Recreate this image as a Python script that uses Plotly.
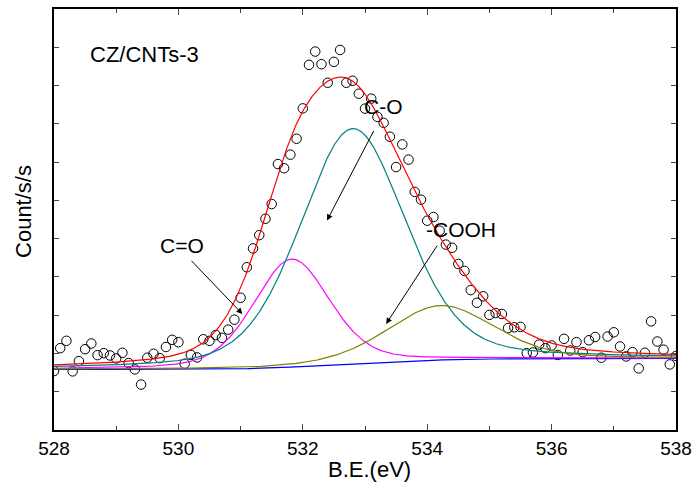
import numpy as np
import plotly.graph_objects as go

# ---- measured data (O1s XPS, 0.1 eV step) ----
be_start = 528.0
be_step = 0.1
counts = [
    540, 1138, 1330, 532, 800, 1112, 1260, 956, 1008, 948,
    870, 1018, 748, 584, 187, 888, 992, 878, 1169, 1356,
    1294, 732, 961, 896, 1371, 1330, 1481, 1408, 1623, 1883,
    2455, 3252, 3745, 4091, 4519, 4904, 5948, 5839, 6195, 6610,
    7403, 8540, 8888, 8558, 8073, 8618, 8930, 8073, 8125, 7787,
    7397, 7657, 7182, 7026, 6662, 5870, 6462, 6065, 5221, 5018,
    4468, 4564, 4208, 3844, 3761, 3338, 3156, 2655, 2325, 2494,
    2008, 2057, 2031, 1662, 1683, 1694, 1008, 1026, 1234, 1138,
    1208, 961, 1382, 1078, 1294, 1034, 1345, 1429, 888, 1442,
    1553, 1182, 922, 1034, 610, 1018, 1839, 1312, 1099, 714,
    935,
]
be = [round(be_start + be_step * i, 2) for i in range(len(counts))]

# ---- fitted components ----
peak_names = ["C=O", "C-O", "-COOH"]
peak_centers = [531.82, 532.80, 534.22]
peak_fwhm = [1.45, 2.0, 2.0]
peak_heights = [2820, 6140, 1420]
peak_lorentz = [0.3, 0.3, 0.3]
peak_colors = ["#FF00FF", "#008080", "#808000"]
bg_low_be = 584
bg_high_be = 870

# ---- model curves ----
xf = np.linspace(528, 538, 1001)


def pv(x, c, w, h, m):
    u = (x - c) / w
    return h * ((1 - m) * np.exp(-4 * np.log(2) * u ** 2) + m / (1 + 4 * u ** 2))


comps = [pv(xf, c, w, h, m) for c, w, h, m in zip(peak_centers, peak_fwhm, peak_heights, peak_lorentz)]
total = np.sum(comps, axis=0)
cum = np.cumsum(total)
bg = bg_low_be + (bg_high_be - bg_low_be) * cum / cum[-1]

fig = go.Figure()
fig.add_trace(go.Scatter(x=be, y=counts, mode="markers",
                         marker=dict(symbol="circle-open", size=9.5, color="black",
                                     line=dict(width=1, color="black")),
                         showlegend=False))
fig.add_trace(go.Scatter(x=xf, y=bg, mode="lines", line=dict(color="#0000FF", width=1.2), showlegend=False))
for comp, col in zip(comps, peak_colors):
    fig.add_trace(go.Scatter(x=xf, y=comp + bg, mode="lines", line=dict(color=col, width=1.2), showlegend=False))
fig.add_trace(go.Scatter(x=xf, y=total + bg, mode="lines", line=dict(color="#FF0000", width=1.2), showlegend=False))

font = "Arial, Liberation Sans, sans-serif"

annotations = [
    dict(x=529.456, y=8818, text="CZ/CNTs-3", showarrow=False, font=dict(size=22)),
    dict(x=530.064, y=3831, text="C=O", showarrow=False, font=dict(size=21)),
    dict(x=533.304, y=7442, text="C-O", showarrow=False, font=dict(size=21)),
    dict(x=534.544, y=4247, text="-COOH", showarrow=False, font=dict(size=21)),
    # arrows
    dict(x=531.029, y=2031, ax=530.187, ay=3460, axref="x", ayref="y", text="", showarrow=True,
         arrowhead=2, arrowsize=1.2, arrowwidth=1, arrowcolor="black"),
    dict(x=532.389, y=4473, ax=533.152, ay=6852, axref="x", ayref="y", text="", showarrow=True,
         arrowhead=2, arrowsize=1.2, arrowwidth=1, arrowcolor="black"),
    dict(x=533.339, y=1771, ax=534.176, ay=3857, axref="x", ayref="y", text="", showarrow=True,
         arrowhead=2, arrowsize=1.2, arrowwidth=1, arrowcolor="black"),
    # axis titles
    dict(xref="paper", yref="paper", x=0.508, y=-0.095, text="B.E.(eV)", showarrow=False,
         font=dict(size=22), yanchor="middle"),
    dict(xref="paper", yref="paper", x=-0.05, y=0.52, text="Count/s/s", showarrow=False,
         font=dict(size=22), textangle=-90, xanchor="center"),
]

fig.update_layout(
    width=699, height=495,
    margin=dict(l=54, r=20, t=7, b=65),
    paper_bgcolor="white", plot_bgcolor="white",
    font=dict(family=font, color="black", size=19),
    annotations=annotations,
    xaxis=dict(range=[528, 538], tick0=528, dtick=2, ticks="inside", ticklen=6, tickwidth=1.2,
               showline=True, linecolor="black", linewidth=1.5, mirror="allticks",
               showgrid=False, zeroline=False, tickfont=dict(size=19),
               minor=dict(dtick=1, ticks="inside", ticklen=4, tickwidth=1.2, showgrid=False)),
    yaxis=dict(range=[-1000, 10000], tick0=0, dtick=1000, ticks="inside", ticklen=5, tickwidth=1.2,
               showline=True, linecolor="black", linewidth=1.5, mirror="allticks",
               showgrid=False, zeroline=False, showticklabels=False),
)

fig.write_html("out.html", config={"displayModeBar": False},
               post_script="document.body.style.margin='0';document.body.style.overflow='hidden';")
